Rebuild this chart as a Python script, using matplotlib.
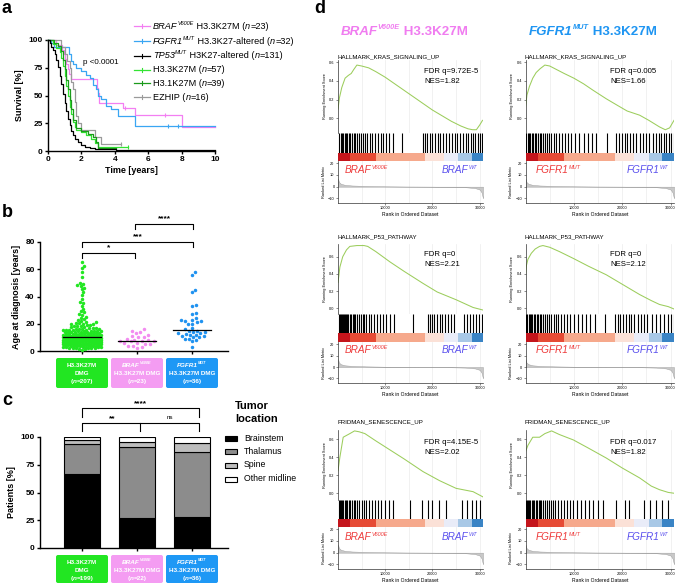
import numpy as np
import matplotlib
matplotlib.use('Agg')
import matplotlib.pyplot as plt
from matplotlib.transforms import IdentityTransform
from matplotlib.patches import FancyBboxPatch
from matplotlib.lines import Line2D

plt.rcParams['font.family'] = ['Liberation Sans', 'DejaVu Sans']

# ======================= DATA =======================
# (a) Kaplan-Meier (time in years, survival in %)
km_braf_t = [0, 0.45, 0.85, 0.95, 1.0, 1.1, 1.2, 1.25, 1.35, 2.95, 3.0, 3.05, 4.5, 5.2, 8.0, 10.0]
km_braf_s = [100, 95.7, 91.3, 87.0, 82.6, 78.3, 73.9, 69.6, 65.2, 56.5, 52.2, 43.5, 39.1, 32.6, 21.7, 21.7]
km_fgfr1_t = [0, 0.15, 0.35, 1.28, 1.35, 1.5, 1.7, 2.0, 2.3, 2.5, 2.7, 2.9, 3.0, 3.2, 3.5, 3.8, 4.2, 5.2, 10.0]
km_fgfr1_s = [100, 96.9, 93.8, 87.5, 81.3, 78.1, 75.0, 71.9, 68.8, 65.6, 59.4, 56.3, 50.0, 46.9, 40.6, 37.5, 31.3, 22.5, 22.5]
km_tp53_t = [0, 0.1, 0.2, 0.3, 0.4, 0.5, 0.6, 0.7, 0.8, 0.9, 1.0, 1.1, 1.2, 1.3, 1.4, 1.5, 1.6, 1.8, 2.0, 2.2, 2.5, 2.8, 3.2, 4.1, 10.0]
km_tp53_s = [100, 97, 94, 91, 87, 82, 76, 68, 60, 51, 43, 36, 29, 23, 18, 14, 11, 8, 5.5, 4, 3, 2.2, 1.5, 0.8, 0.8]
km_h33_t = [0, 0.3, 0.5, 0.7, 0.8, 0.9, 1.0, 1.1, 1.2, 1.3, 1.4, 1.5, 1.6, 1.7, 2.0, 2.3, 2.6, 2.8, 3.0, 4.8]
km_h33_s = [100, 96.5, 93, 89.5, 84, 77, 68, 59, 50, 40, 33, 26, 22, 19.3, 17.5, 14, 10.5, 7, 3.5, 3.5]
km_h31_t = [0, 0.35, 0.6, 0.8, 0.9, 1.0, 1.1, 1.2, 1.3, 1.4, 1.5, 1.7, 2.0, 2.4, 2.7, 2.9, 3.0, 4.1]
km_h31_s = [100, 97.4, 94.9, 89.7, 82, 74, 64, 56, 46, 38, 28, 20.5, 17.9, 15.4, 12.8, 7.7, 2.6, 2.6]
km_ezhip_t = [0, 0.8, 1.0, 1.15, 1.3, 1.4, 1.5, 1.6, 1.7, 1.8, 2.0, 2.8, 3.2, 4.4]
km_ezhip_s = [100, 93.8, 87.5, 81.3, 75, 62.5, 56.3, 43.8, 31.3, 25, 18.8, 12.5, 6.3, 6.3]
km_censor_t = [[4.6, 7.0], [7.2, 7.8], [], [4.8], [], [4.4]]
km_censor_s = [[39.1, 32.6], [22.5, 22.5], [], [3.5], [], [6.3]]
km_n = [23, 32, 131, 57, 39, 16]
km_pvalue = "p <0.0001"

# (b) age at diagnosis [years]
age_h33 = [65, 62.5, 60.8, 57.7, 54.0, 50.2, 49.0, 48.1, 47.5, 46.6, 45.3, 43.2, 41.0, 38.4, 36.0,
           35.2, 33.1, 31.0, 29.5, 28.4, 27.2, 26.3, 25.1, 24.4, 23.6, 22.8, 22.1, 21.6, 21.0, 20.6,
           20.3, 20.1, 19.9,
           19.6, 19.3, 19.0, 18.7, 18.4, 18.1, 17.8, 17.5, 17.2, 17.0, 16.8, 16.5, 16.3, 16.1, 15.9,
           15.7, 15.5, 15.3, 15.2, 15.1, 15.0,
           14.9, 14.8, 14.7, 14.5, 14.4, 14.2, 14.1, 14.0, 13.9, 13.8, 13.6, 13.5, 13.4, 13.2, 13.1,
           13.0, 12.9, 12.8, 12.7, 12.6, 12.4, 12.3, 12.2, 12.1, 12.0, 11.9, 11.8, 11.7, 11.6, 11.5,
           11.4, 11.3, 11.2, 11.1, 11.0, 10.9, 10.8, 10.7, 10.6, 10.5, 10.4, 10.3, 10.2, 10.15, 10.1,
           10.05, 10.0, 10.0, 10.0, 10.0,
           9.9, 9.8, 9.7, 9.6, 9.5, 9.4, 9.3, 9.2, 9.1, 9.0, 9.0, 9.0,
           8.9, 8.8, 8.7, 8.6, 8.5, 8.4, 8.3, 8.2, 8.1, 8.0, 8.05, 8.15, 8.25, 8.35,
           7.9, 7.8, 7.7, 7.6, 7.5, 7.4, 7.3, 7.2, 7.1, 7.0, 7.05, 7.15, 7.25, 7.35, 7.45,
           6.9, 6.8, 6.7, 6.6, 6.5, 6.4, 6.3, 6.2, 6.1, 6.0, 6.05, 6.15, 6.25, 6.35, 6.45,
           5.9, 5.8, 5.7, 5.6, 5.5, 5.4, 5.3, 5.2, 5.1, 5.0, 5.05, 5.15, 5.25, 5.35,
           4.9, 4.8, 4.7, 4.6, 4.5, 4.4, 4.3, 4.2, 4.1, 4.0, 4.05, 4.15,
           3.9, 3.8, 3.7, 3.6, 3.5, 3.4, 3.3, 3.2, 3.1, 3.0,
           2.9, 2.7, 2.5, 2.3, 2.1, 2.0, 2.4,
           1.9, 1.6, 1.3, 1.0]
age_braf = [16, 15, 14, 13, 12, 11, 10, 10, 9, 8, 8, 7.5, 7, 7, 7, 6, 6, 5, 5, 4, 4, 3, 2]
age_fgfr1 = [58, 56, 45, 43, 34, 33, 28, 27, 24, 23, 23, 22, 22, 21, 20, 20, 17, 16, 15, 15,
             14, 14, 13, 13, 12, 12, 11, 11, 10, 10, 9, 9, 8, 7, 12.5, 3]
b_groups_n = [207, 23, 36]

# (c) tumor location [% of patients]
c_groups_n = [199, 22, 36]
loc_names = ["Brainstem", "Thalamus", "Spine", "Other midline"]
loc_brainstem = [66.8, 27.3, 27.8]
loc_thalamus = [27.1, 63.6, 58.3]
loc_spine = [3.5, 4.5, 8.3]
loc_other = [2.6, 4.6, 5.6]

# (d) GSEA running enrichment scores (rank in thousands)
es_rank_kras_braf = [0, 0.3, 0.8, 1.5, 2.2, 2.8, 3.3, 4.0, 5.0, 6.5, 8, 10, 12, 14, 16, 18, 20, 22, 24, 26, 27.5, 28.5, 29.3, 30.0, 30.6]
es_kras_braf = [0.10, 0.22, 0.33, 0.43, 0.46, 0.48, 0.52, 0.57, 0.56, 0.54, 0.50, 0.44, 0.37, 0.30, 0.23, 0.16, 0.09, 0.03, -0.03, -0.08, -0.11, -0.12, -0.12, -0.07, -0.02]
es_rank_kras_fgfr1 = [0, 0.3, 0.8, 1.5, 2.2, 3.0, 4.0, 5.0, 6.5, 8, 10, 12, 14, 16.7, 19, 21, 23.6, 25.5, 27.7, 28.9, 29.8, 30.7]
es_kras_fgfr1 = [0.12, 0.25, 0.34, 0.43, 0.49, 0.53, 0.57, 0.56, 0.52, 0.48, 0.43, 0.37, 0.30, 0.21, 0.14, 0.08, 0.035, -0.02, -0.09, -0.12, -0.10, -0.02]
es_rank_p53_braf = [0, 0.4, 1.0, 1.8, 2.5, 4.0, 5.5, 6.3, 8, 11, 14, 18, 21, 25, 28.6, 30.7]
es_p53_braf = [0.30, 0.48, 0.60, 0.68, 0.72, 0.73, 0.73, 0.72, 0.66, 0.54, 0.43, 0.29, 0.19, 0.10, 0.01, -0.02]
es_rank_p53_fgfr1 = [0, 0.2, 0.5, 1.2, 2.0, 2.9, 3.6, 5, 7, 9.9, 13, 16.7, 20, 23.6, 26, 27.7, 29.5, 30.8]
es_p53_fgfr1 = [0.39, 0.50, 0.57, 0.64, 0.69, 0.72, 0.73, 0.71, 0.66, 0.58, 0.49, 0.39, 0.28, 0.16, 0.09, 0.045, 0.02, -0.01]
es_rank_sen_braf = [0, 0.4, 1.1, 2.5, 3.5, 4.5, 5.7, 8, 11, 14, 18, 21.5, 25, 28.6, 30.7]
es_sen_braf = [0.25, 0.40, 0.62, 0.66, 0.69, 0.68, 0.66, 0.58, 0.48, 0.38, 0.24, 0.14, 0.055, 0.018, -0.04]
es_rank_sen_fgfr1 = [0, 0.5, 1.5, 2.9, 4.0, 5.4, 7, 9.9, 13, 16.7, 20, 23.6, 26, 27.7, 29.5, 30.8]
es_sen_fgfr1 = [0.46, 0.53, 0.62, 0.62, 0.66, 0.69, 0.65, 0.59, 0.50, 0.39, 0.28, 0.17, 0.08, 0.04, 0.01, 0.0]

hits_kras_braf = [0.3, 0.6, 0.9, 1.1, 1.4, 1.7, 2.0, 2.3, 2.6, 2.9, 3.3, 3.6, 4.0, 4.4, 4.9, 5.3, 5.8, 6.2, 6.7,
                  7.3, 7.8, 8.4, 9.0, 9.6, 10.2, 10.9, 11.6, 13.5, 18.0, 18.4, 18.9, 19.5, 20.0, 20.6, 21.1,
                  21.7, 22.2, 22.9, 23.5, 24.1, 24.8, 25.3, 25.9, 26.4, 27.0, 27.5, 28.1, 28.6, 29.1, 29.6, 30.0, 30.4]
hits_kras_fgfr1 = [0.2, 0.5, 0.8, 1.0, 1.3, 1.6, 1.9, 2.2, 2.5, 2.9, 3.2, 3.6, 4.0, 4.4, 4.8, 5.3, 5.8, 6.3, 6.9,
                   7.5, 8.1, 8.8, 9.5, 10.3, 11.1, 12.0, 12.9, 13.8, 14.5, 16.9, 18.8, 19.3, 19.9, 20.5, 21.0,
                   21.6, 22.3, 22.9, 23.6, 24.3, 25.0, 25.6, 26.3, 26.9, 27.5, 28.0, 28.6, 29.1, 29.6, 30.1, 30.6]
hits_p53_braf = [0.2, 0.4, 0.6, 0.8, 1.0, 1.2, 1.5, 1.7, 2.0, 2.2, 2.5, 2.8, 3.1, 3.4, 3.7, 4.0, 4.4, 4.8, 5.2,
                 5.6, 6.0, 6.5, 7.0, 7.6, 8.2, 8.8, 9.5, 10.2, 11.0, 11.8, 15.8, 19.0, 19.4, 19.9, 20.4, 20.9,
                 21.5, 22.1, 22.7, 23.3, 24.0, 24.6, 26.6, 27.3, 27.9, 28.5, 29.2, 29.8, 30.4]
hits_p53_fgfr1 = [0.2, 0.4, 0.7, 0.9, 1.2, 1.4, 1.7, 2.0, 2.3, 2.6, 2.9, 3.3, 3.6, 4.0, 4.4, 4.8, 5.3, 5.8, 6.3,
                  6.8, 7.4, 8.0, 8.6, 9.3, 10.0, 10.8, 11.6, 12.5, 13.4, 14.4, 16.4, 18.6, 19.1, 19.6, 20.1,
                  20.7, 21.3, 21.9, 22.5, 23.2, 23.9, 24.6, 25.2, 26.2, 27.0, 27.8, 28.6, 29.4, 30.1, 30.7]
hits_sen_braf = [0.2, 0.4, 0.6, 0.9, 1.1, 1.4, 1.7, 2.0, 2.3, 2.6, 3.0, 3.3, 3.7, 4.1, 4.5, 5.0, 5.5, 6.0, 6.6,
                 7.2, 7.8, 8.5, 9.2, 10.0, 10.8, 11.6, 15.2, 17.7, 19.0, 20.0, 21.3, 22.8, 26.3, 27.3, 28.3, 29.3, 30.1]
hits_sen_fgfr1 = [0.2, 0.4, 0.6, 0.8, 1.0, 1.3, 1.5, 1.8, 2.1, 2.4, 2.7, 3.0, 3.3, 3.6, 4.0, 4.4, 4.8, 5.2, 5.7,
                  6.2, 6.7, 7.3, 7.9, 8.5, 9.2, 9.9, 10.6, 11.4, 12.2, 13.1, 14.0, 15.0, 16.0, 18.8, 20.5, 21.5,
                  24.5, 25.8, 27.0, 28.2, 29.4]

rank_metric_x = [0, 0.2, 0.6, 1.5, 3, 6, 10, 15, 20, 24, 27, 29, 30, 30.4, 30.7]
rank_metric_y = [7, 4, 2.5, 1.5, 1.0, 0.6, 0.3, 0.1, 0, -0.2, -0.5, -1.2, -2.5, -5, -10]
cbar_edges = [0, 2.5, 8, 18.5, 22.5, 25.5, 28.3, 30.8]
cbar_colors = ['#c4151c', '#e64b35', '#f6a98c', '#fbe1d7', '#e9ecf8', '#a8c8e6', '#3a84c5']

gsea_titles = ['HALLMARK_KRAS_SIGNALING_UP', 'HALLMARK_P53_PATHWAY', 'FRIDMAN_SENESCENCE_UP']
gsea_fdr = [['FDR q=9.72E-5', 'FDR q=0.005'], ['FDR q=0', 'FDR q=0'], ['FDR q=4.15E-5', 'FDR q=0.017']]
gsea_nes = [['NES=1.82', 'NES=1.66'], ['NES=2.21', 'NES=2.12'], ['NES=2.02', 'NES=1.82']]

# ======================= FIGURE =======================
W, H = 676, 583
fig = plt.figure(figsize=(W / 100, H / 100), dpi=100)
ID = IdentityTransform()


def axpx(x0, y0, x1, y1):
    return fig.add_axes([x0 / W, 1 - y1 / H, (x1 - x0) / W, (y1 - y0) / H])


def pline(xs, ys, **kw):
    fig.add_artist(Line2D(list(xs), [H - y for y in ys], transform=ID, **kw))


def txt(x, y, s, size, **kw):
    kw.setdefault('va', 'baseline')
    return fig.text(x, H - y, s, fontsize=size, transform=ID, **kw)


def rich(x, y, pieces, size, ha='left', color='black', weight='normal', sup_scale=0.6, raise_f=0.42):
    r = fig.canvas.get_renderer()
    arts = []
    cx = 0.0
    for p in pieces:
        s = p[0]
        o = p[1] if len(p) > 1 else {}
        sup = o.get('sup', False)
        fs = size * sup_scale if sup else size
        dy = size * raise_f * 100 / 72 if sup else 0
        t = fig.text(0, 0, s, fontsize=fs, transform=ID, fontstyle=o.get('style', 'normal'),
                     fontweight=o.get('weight', weight), color=o.get('color', color),
                     va='baseline', ha='left')
        w = t.get_window_extent(r).width
        arts.append((t, cx, dy))
        cx += w
    x0 = x - cx / 2 if ha == 'center' else (x - cx if ha == 'right' else x)
    for t, ox, dy in arts:
        t.set_position((x0 + ox, H - y + dy))


def style_prism(ax, lw=1.0):
    for s in ['top', 'right']:
        ax.spines[s].set_visible(False)
    for s in ['left', 'bottom']:
        ax.spines[s].set_linewidth(lw)
    ax.tick_params(length=2.3, width=lw, labelsize=6, pad=1.5)
    for lab in ax.get_xticklabels() + ax.get_yticklabels():
        lab.set_fontweight('bold')


IT = {'style': 'italic'}
ITS = {'style': 'italic', 'sup': True}

# ---------------- panel letters ----------------
for lt, x, y in [('a', 2, 13), ('b', 2, 217), ('c', 2, 405), ('d', 314, 13)]:
    txt(x, y, lt, 13, fontweight='bold')

# ---------------- (a) ----------------
axa = axpx(48, 40, 215, 151)
km_cols = ['#f37ff2', '#3aa6f3', '#000000', '#33e333', '#1b9a1b', '#9a9a9a']
km_t = [km_braf_t, km_fgfr1_t, km_tp53_t, km_h33_t, km_h31_t, km_ezhip_t]
km_s = [km_braf_s, km_fgfr1_s, km_tp53_s, km_h33_s, km_h31_s, km_ezhip_s]
for i in [0, 1, 5, 3, 4, 2]:
    axa.step(km_t[i], km_s[i], where='post', color=km_cols[i], lw=0.9, clip_on=False)
    axa.plot(km_censor_t[i], km_censor_s[i], ls='none', marker='|', ms=3, mew=0.8, color=km_cols[i], clip_on=False)
axa.set_xlim(0, 10)
axa.set_ylim(0, 100)
axa.set_xticks([0, 2, 4, 6, 8, 10])
axa.set_yticks([0, 25, 50, 75, 100])
style_prism(axa)
axa.set_xlabel('Time [years]', fontsize=6.5, fontweight='bold', labelpad=2)
axa.set_ylabel('Survival [%]', fontsize=6.5, fontweight='bold', labelpad=3)
txt(83, 64, km_pvalue, 5.8)

leg_y = [26, 41, 55.5, 69.5, 83, 97]
leg_pieces = [
    [('BRAF', IT), ('V600E', ITS), (' H3.3K27M (',), ('n', IT), ('=23)',)],
    [('FGFR1', IT), ('MUT', ITS), (' H3.3K27-altered (',), ('n', IT), ('=32)',)],
    [('TP53', IT), ('MUT', ITS), (' H3K27-altered (',), ('n', IT), ('=131)',)],
    [('H3.3K27M (',), ('n', IT), ('=57)',)],
    [('H3.1K27M (',), ('n', IT), ('=39)',)],
    [('EZHIP (',), ('n', IT), ('=16)',)],
]
for i, yy in enumerate(leg_y):
    pline([134, 150], [yy, yy], color=km_cols[i], lw=0.9)
    pline([142, 142], [yy - 2, yy + 2], color=km_cols[i], lw=0.8)
    rich(153, yy + 2.6, leg_pieces[i], 6.6)

# ---------------- (b) ----------------
gx_px = [82, 137, 192]
ppx = 55.0


def data_x(px):
    return (px - 82) / ppx


axb = axpx(40, 242, 228, 351)
axb.set_xlim(data_x(40), data_x(228))
axb.set_ylim(0, 80)
ppu_b = (351 - 242) / 80.0


def swarm_offsets(vals, ppu, d, maxw, step=0.35):
    y = np.asarray(vals, float) * ppu
    order = np.argsort(y)
    k = np.arange(1, 400) * step
    cands = np.concatenate([[0.0], np.column_stack([k, -k]).ravel()])
    cands = cands[np.abs(cands) <= maxw]
    xs = np.zeros(len(y))
    px, py = [], []
    for i in order:
        c = 0.0
        if px:
            P = np.array(px)
            Q = np.array(py)
            near = np.abs(Q - y[i]) < d
            if near.any():
                dx = cands[:, None] - P[near][None, :]
                dy = y[i] - Q[near]
                dist = np.sqrt(dx ** 2 + dy[None, :] ** 2).min(axis=1)
                ok = np.where(dist >= d)[0]
                c = cands[ok[0]] if len(ok) else cands[np.argmax(dist)]
        xs[i] = c
        px.append(c)
        py.append(y[i])
    return xs


b_cols = ['#22e622', '#f28cf0', '#1f92f0']
for gi, vals in enumerate([age_h33, age_braf, age_fgfr1]):
    offs = swarm_offsets(vals, ppu_b, [3.1, 4.6, 4.1][gi], 19)
    axb.scatter(gi + offs / ppx, vals, s=6.3, color=b_cols[gi], lw=0, zorder=3, clip_on=False)
    med = np.median(vals)
    axb.plot([gi - 0.34, gi + 0.34], [med, med], color='black', lw=0.9, zorder=4)
axb.set_xticks([0, 1, 2])
axb.set_xticklabels([])
axb.set_yticks([0, 20, 40, 60, 80])
style_prism(axb)
axb.set_ylabel('Age at diagnosis [years]', fontsize=6.5, fontweight='bold', labelpad=3)

# brackets b
for (x0, x1, yl, yt, lab, ty) in [(82, 135, 253, 258, '*', 249), (82, 193, 242, 247, '***', 238),
                                  (135, 193, 224, 229, '****', 220)]:
    pline([x0, x0, x1, x1], [yt, yl, yl, yt], color='black', lw=0.8)
    txt((x0 + x1) / 2, ty, lab, 6, ha='center', fontweight='bold')

box_cols = ['#22e622', '#f49cf2', '#1e98f5']


def label_boxes(ytop, ybot, n_list):
    lines = [
        [[('H3.3K27M',)], [('DMG',)], [('(',), ('n', IT), ('=%d)' % n_list[0],)]],
        [[('BRAF', IT), ('V600E', ITS)], [('H3.3K27M DMG',)], [('(',), ('n', IT), ('=%d)' % n_list[1],)]],
        [[('FGFR1', IT), ('MUT', ITS)], [('H3.3K27M DMG',)], [('(',), ('n', IT), ('=%d)' % n_list[2],)]],
    ]
    for gi, cx in enumerate(gx_px):
        fig.add_artist(FancyBboxPatch((cx - 26, H - ybot), 52, ybot - ytop,
                                      boxstyle='round,pad=0,rounding_size=2', transform=ID,
                                      fc=box_cols[gi], ec='none'))
        for li, pcs in enumerate(lines[gi]):
            rich(cx, ytop + 9 + li * 8, pcs, 4.6, ha='center', color='white', weight='bold')


label_boxes(358, 388, b_groups_n)

# ---------------- (c) ----------------
axc = axpx(40, 437, 228, 548)
axc.set_xlim(data_x(40), data_x(228))
axc.set_ylim(0, 100)
loc_cols = ['#000000', '#8c8c8c', '#bdbdbd', '#ffffff']
bottom = np.zeros(3)
for vals, col in zip([loc_brainstem, loc_thalamus, loc_spine, loc_other], loc_cols):
    axc.bar([0, 1, 2], vals, bottom=bottom, width=0.67, color=col, edgecolor='black', lw=0.8, zorder=3)
    bottom += np.array(vals)
axc.set_xticks([0, 1, 2])
axc.set_xticklabels([])
axc.set_yticks([0, 25, 50, 75, 100])
style_prism(axc)
axc.set_ylabel('Patients [%]', fontsize=6.5, fontweight='bold', labelpad=3)

pline([82, 82, 199, 199], [417, 408, 408, 417], color='black', lw=0.8)
txt(140, 405, '****', 6, ha='center', fontweight='bold')
pline([82, 82, 199, 199], [431, 423, 423, 431], color='black', lw=0.8)
pline([140, 140], [423, 431], color='black', lw=0.8)
txt(112, 420, '**', 6, ha='center', fontweight='bold')
txt(170, 419, 'ns', 4.5, ha='center')

txt(235, 409, 'Tumor', 8, fontweight='bold')
txt(235, 422, 'location', 8, fontweight='bold')
for i, (nm, yy) in enumerate(zip(loc_names, [438.5, 451.5, 465, 479])):
    fig.add_artist(FancyBboxPatch((224.5, H - yy - 2.5), 12.5, 5, boxstyle='square,pad=0', transform=ID,
                                  fc=loc_cols[i], ec='black', lw=0.8))
    txt(244, yy + 2.3, nm, 6.3)

label_boxes(555, 583, c_groups_n)

# ---------------- (d) GSEA ----------------
rich(404, 35, [('BRAF', {'style': 'italic', 'weight': 'bold'}), ('V600E', {'style': 'italic', 'weight': 'bold', 'sup': True}),
               (' H3.3K27M', {'weight': 'bold'})], 9.6, ha='center', color='#f07cf0', sup_scale=0.55)
rich(593, 35, [('FGFR1', {'style': 'italic', 'weight': 'bold'}), ('MUT', {'style': 'italic', 'weight': 'bold', 'sup': True}),
               (' H3.3K27M', {'weight': 'bold'})], 9.6, ha='center', color='#1e95f2', sup_scale=0.55)

rows = [dict(title=58.5, es=(60, 133), hits=(133, 153), cb=(153, 161), rank=(161, 203), esl=(-0.155, 0.624),
             fdr=(73, 83), lab=173),
        dict(title=238.5, es=(244, 314), hits=(314, 333), cb=(333, 342), rank=(342, 383), esl=(-0.066, 0.748),
             fdr=(256, 266), lab=353),
        dict(title=423.5, es=(430, 500), hits=(500, 519), cb=(519, 527), rank=(527, 569), esl=(-0.074, 0.70),
             fdr=(444, 454), lab=540)]
cols_x = [(338, 483), (525.5, 674)]
es_data = [[(es_rank_kras_braf, es_kras_braf, hits_kras_braf), (es_rank_kras_fgfr1, es_kras_fgfr1, hits_kras_fgfr1)],
           [(es_rank_p53_braf, es_p53_braf, hits_p53_braf), (es_rank_p53_fgfr1, es_p53_fgfr1, hits_p53_fgfr1)],
           [(es_rank_sen_braf, es_sen_braf, hits_sen_braf), (es_rank_sen_fgfr1, es_sen_fgfr1, hits_sen_fgfr1)]]
lab_pieces = [([('BRAF', IT), ('V600E', ITS)], [('BRAF', IT), ('WT', ITS)]),
              ([('FGFR1', IT), ('MUT', ITS)], [('FGFR1', IT), ('WT', ITS)])]
lab_x = [(345, 442), (536, 627)]
XMAX = 30700


def thin(ax):
    for s in ['top', 'right']:
        ax.spines[s].set_visible(False)
    for s in ['left', 'bottom']:
        ax.spines[s].set_linewidth(0.5)
        ax.spines[s].set_color('#333333')
    ax.tick_params(length=1.5, width=0.4, labelsize=2.8, pad=1, color='#333333')


for ri, rw in enumerate(rows):
    for ci, (xl, xr) in enumerate(cols_x):
        ex, ey, hh = es_data[ri][ci]
        txt(xl - 1, rw['title'], gsea_titles[ri], 4.4)
        ax = axpx(xl, rw['es'][0], xr, rw['es'][1])
        for v in range(5000, 30001, 5000):
            ax.axvline(v, color='#ececec', lw=0.5, zorder=0)
        ax.plot(np.array(ex) * 1000, ey, color='#9ccd5c', lw=0.75)
        ax.set_xlim(0, XMAX)
        ax.set_ylim(*rw['esl'])
        thin(ax)
        ax.spines['bottom'].set_visible(False)
        ax.set_xticks([])
        ax.set_yticks([0, 0.2, 0.4, 0.6])
        ax.set_yticklabels(['0.0', '0.2', '0.4', '0.6'])
        ax.set_ylabel('Running Enrichment Score', fontsize=2.8, labelpad=1.5)
        txt(xl + [86, 84.5][ci], rw['fdr'][0], gsea_fdr[ri][ci], 5.6)
        txt(xl + [86, 84.5][ci], rw['fdr'][1], gsea_nes[ri][ci], 5.6)

        axh = axpx(xl, rw['hits'][0], xr, rw['hits'][1])
        axh.vlines(np.array(hh) * 1000, 0, 1, color='black', lw=0.8)
        axh.set_xlim(0, XMAX)
        axh.set_ylim(0, 1)
        axh.axis('off')

        axcb = axpx(xl, rw['cb'][0], xr, rw['cb'][1])
        for j, colr in enumerate(cbar_colors):
            axcb.axvspan(cbar_edges[j] * 1000, cbar_edges[j + 1] * 1000, color=colr, lw=0)
        axcb.set_xlim(0, XMAX)
        axcb.axis('off')

        axr = axpx(xl, rw['rank'][0], xr, rw['rank'][1])
        for v in range(5000, 30001, 5000):
            axr.axvline(v, color='#ececec', lw=0.5, zorder=0)
        axr.fill_between(np.array(rank_metric_x) * 1000, rank_metric_y, 0, color='#c8c8c8', lw=0.3,
                         edgecolor='#999999')
        axr.set_xlim(0, XMAX)
        axr.set_ylim(-14, 22)
        thin(axr)
        axr.set_xticks([10000, 20000, 30000])
        axr.set_xticklabels(['10000', '20000', '30000'])
        axr.set_yticks([-10, 0, 10, 20])
        axr.set_xlabel('Rank in Ordered Dataset', fontsize=3.6, labelpad=0.8)
        axr.set_ylabel('Ranked List Metric', fontsize=2.8, labelpad=1.5)
        lp, rp = lab_pieces[ci]
        rich(lab_x[ci][0], rw['lab'], lp, 7.2, color='#ee3a3a', sup_scale=0.55)
        rich(lab_x[ci][1], rw['lab'], rp, 7.2, color='#5a50ee', sup_scale=0.55)

fig.savefig('out.png', dpi=100)
